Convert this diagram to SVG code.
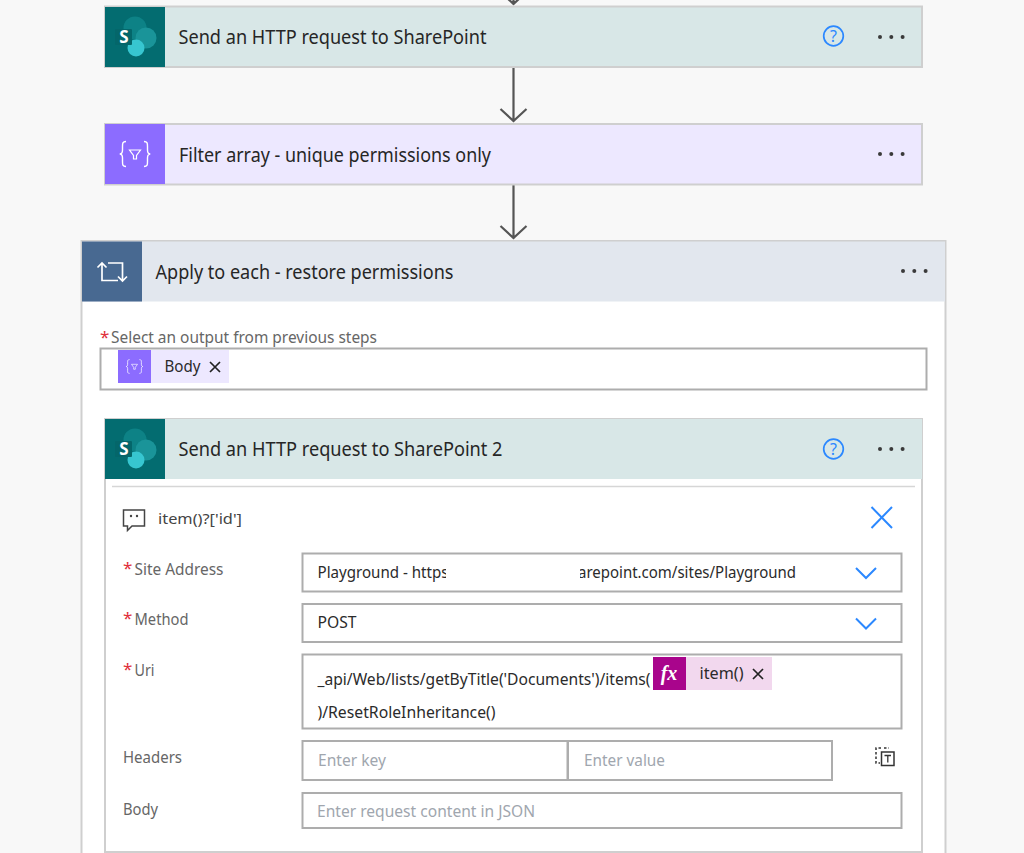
<svg xmlns="http://www.w3.org/2000/svg" xmlns:xlink="http://www.w3.org/1999/xlink" width="1024" height="853" viewBox="0 0 1024 853">
<style>
text{font-family:"Noto Sans","Open Sans","Liberation Sans",sans-serif;}
.title{font-size:19px;fill:#262626}
.lab{font-size:15.5px;fill:#666}
.val{font-size:15.5px;fill:#2b2b2b}
.ph{font-size:15.5px;fill:#a0a6ae}
.star{font-size:17px;fill:#e0303a}
.box{fill:#fff;stroke:#adadad;stroke-width:2}
.card{stroke:#cfcfcf;stroke-width:2}
.conn{fill:none;stroke:#555;stroke-width:2.2}
.dot{fill:#3a3a3a}
.blue{fill:none;stroke:#2b88ff;stroke-width:2}
.x{fill:none;stroke:#222;stroke-width:1.7}
</style>
<defs>
<g id="dots"><circle cx="0" cy="0" r="2" class="dot"/><circle cx="11.3" cy="0" r="2" class="dot"/><circle cx="22.6" cy="0" r="2" class="dot"/></g>
<g id="sp">
<rect x="0" y="0" width="60" height="60" fill="#036c70"/>
<circle cx="30" cy="21" r="11.500" fill="#0d8286"/>
<circle cx="41" cy="31" r="10.500" fill="#1a9499"/>
<circle cx="31" cy="41" r="8.500" fill="#37c6d0"/>
<rect x="10" y="22" width="17" height="16" rx="1" fill="#04666a"/>
<text x="19" y="36" font-size="17" font-weight="700" fill="#fff" text-anchor="middle">S</text>
</g>
<g id="help"><circle cx="0" cy="0" r="9.8" fill="none" stroke="#2b88ff" stroke-width="1.700"/><text x="0" y="5.800" font-size="16" fill="#2b88ff" text-anchor="middle">?</text></g>
<g id="chev"><path d="M-10 -5L0 5L10 -5" class="blue"/></g>
<g id="filt"><path d="M-9 -12.500c-3.500 0-3.500 2-3.500 5v3.500c0 3-1.500 4-2.800 4c1.300 0 2.800 1 2.800 4v3.500c0 3 0 5 3.500 5M9 -12.500c3.500 0 3.500 2 3.500 5v3.500c0 3 1.500 4 2.800 4c-1.300 0-2.800 1-2.800 4v3.500c0 3 0 5-3.500 5" fill="none" stroke="#fff" stroke-width="1.400"/><path d="M-5.500 -4H5.500L1.500 1.500V5H-1.500V1.500Z" fill="none" stroke="#fff" stroke-width="1.200"/></g>
<clipPath id="c1"><rect x="310" y="560" width="136" height="26"/></clipPath>
<clipPath id="c2"><rect x="580" y="560" width="240" height="26"/></clipPath>
</defs>

<rect width="1024" height="853" fill="#f8f8f8"/>

<g id="connectors">
<path d="M513.500 -4V4M506 -3L513.500 4L521 -3" class="conn"/>
<path d="M513.500 68V120M500.500 109L513.500 121L526.500 109" class="conn"/>
<path d="M513.500 185V238M500.500 226L513.500 238L526.500 226" class="conn"/>
</g>

<g id="node-send-http">
<rect x="105" y="6.500" width="817" height="60.500" fill="#d8e7e7" class="card"/>
<use xlink:href="#sp" href="#sp" x="105" y="7"/>
<text x="178.500" y="44" class="title" textLength="308" lengthAdjust="spacingAndGlyphs">Send an HTTP request to SharePoint</text>
<use xlink:href="#help" href="#help" x="833.500" y="36"/>
<use xlink:href="#dots" href="#dots" x="880" y="37"/>
</g>

<g id="node-filter-array">
<rect x="105" y="124" width="817" height="60.500" fill="#ede8ff" class="card"/>
<rect x="105" y="124" width="60" height="60" fill="#8c6cff"/>
<use xlink:href="#filt" href="#filt" x="135" y="154"/>
<text x="179" y="162" class="title" textLength="312" lengthAdjust="spacingAndGlyphs">Filter array - unique permissions only</text>
<use xlink:href="#dots" href="#dots" x="880" y="154"/>
</g>

<g id="node-apply-to-each">
<rect x="81.500" y="241" width="864" height="620" fill="#fff" class="card"/>
<rect x="82" y="241.500" width="863" height="60" fill="#e2e7ee"/>
<rect x="82" y="241.500" width="60" height="60" fill="#486991"/>
<path d="M102 263V280.500H118M97.500 267.500L102 263L106.500 267.500" fill="none" stroke="#fff" stroke-width="1.700"/>
<path d="M108 263H122.500V281M118 276.500L122.500 281L127 276.500" fill="none" stroke="#fff" stroke-width="1.700"/>
<text x="155.500" y="279" class="title" textLength="298" lengthAdjust="spacingAndGlyphs">Apply to each - restore permissions</text>
<use xlink:href="#dots" href="#dots" x="903" y="271"/>
<text x="100" y="343" class="star">*</text>
<text x="111" y="343" class="lab" textLength="266" lengthAdjust="spacingAndGlyphs">Select an output from previous steps</text>
<rect x="100.500" y="348.500" width="826" height="41" class="box"/>
<rect x="118" y="350" width="111" height="33" fill="#ede8ff"/>
<rect x="118" y="350" width="33" height="33" fill="#8c6cff"/>
<use xlink:href="#filt" href="#filt" transform="translate(134.500 366.500) scale(.55)"/>
<text x="164.500" y="372" class="val" textLength="36" lengthAdjust="spacingAndGlyphs">Body</text>
<path d="M210 362L220 372M220 362L210 372" class="x"/>
</g>

<g id="node-send-http-2">
<rect x="105" y="419" width="817" height="433" fill="#fff" class="card"/>
<rect x="105" y="419" width="817" height="60" fill="#d8e7e7"/>
<use xlink:href="#sp" href="#sp" x="105" y="419"/>
<text x="178.500" y="456" class="title" textLength="324" lengthAdjust="spacingAndGlyphs">Send an HTTP request to SharePoint 2</text>
<use xlink:href="#help" href="#help" x="833.500" y="449"/>
<use xlink:href="#dots" href="#dots" x="880" y="449"/>
<path d="M112 486.500H915" stroke="#d6d6d6" stroke-width="1.500"/>
<path d="M123.500 510H144.500V526H132L127.500 530.500V526H123.500Z" fill="none" stroke="#444" stroke-width="1.500"/>
<circle cx="131" cy="516" r="1.200" fill="#444"/><circle cx="137" cy="516" r="1.200" fill="#444"/>
<text x="158" y="524" font-size="15" fill="#444" textLength="84" lengthAdjust="spacingAndGlyphs">item()?['id']</text>
<path d="M871.500 507L892 528M892 507L871.500 528" class="blue"/>

<text x="123" y="574" class="star">*</text>
<text x="134.500" y="575" class="lab" textLength="89" lengthAdjust="spacingAndGlyphs">Site Address</text>
<rect x="302.500" y="553.500" width="599" height="38" class="box"/>
<text x="317.500" y="578" class="val" clip-path="url(#c1)" textLength="131" lengthAdjust="spacingAndGlyphs">Playground - https</text>
<text x="578" y="578" class="val" clip-path="url(#c2)" textLength="218" lengthAdjust="spacingAndGlyphs">arepoint.com/sites/Playground</text>
<use xlink:href="#chev" href="#chev" x="866" y="573"/>

<text x="123" y="624" class="star">*</text>
<text x="134.500" y="625" class="lab" textLength="54" lengthAdjust="spacingAndGlyphs">Method</text>
<rect x="302.500" y="604" width="599" height="38" class="box"/>
<text x="317.500" y="628" class="val" textLength="39" lengthAdjust="spacingAndGlyphs">POST</text>
<use xlink:href="#chev" href="#chev" x="866" y="623.500"/>

<text x="123" y="675" class="star">*</text>
<text x="134.500" y="676" class="lab" textLength="20" lengthAdjust="spacingAndGlyphs">Uri</text>
<rect x="302.500" y="654.500" width="599" height="74" class="box"/>
<text x="317.500" y="685" class="val" textLength="333" lengthAdjust="spacingAndGlyphs">_api/Web/lists/getByTitle('Documents')/items(</text>
<rect x="653" y="657" width="119" height="33" fill="#f2d8ee"/>
<rect x="653" y="657" width="33" height="33" fill="#a9058c"/>
<text x="669" y="680" font-size="20" font-style="italic" font-weight="700" fill="#fff" text-anchor="middle" style="font-family:'Liberation Serif',serif">fx</text>
<text x="699.500" y="679" class="val" textLength="44" lengthAdjust="spacingAndGlyphs">item()</text>
<path d="M753 669L763 679M763 669L753 679" class="x"/>
<text x="317.500" y="718" class="val" textLength="178" lengthAdjust="spacingAndGlyphs">)/ResetRoleInheritance()</text>

<text x="123" y="763" class="lab" textLength="59" lengthAdjust="spacingAndGlyphs">Headers</text>
<rect x="302.500" y="741" width="265" height="39" class="box"/>
<text x="318" y="766" class="ph" textLength="68" lengthAdjust="spacingAndGlyphs">Enter key</text>
<rect x="568" y="741" width="264" height="39" class="box"/>
<text x="584" y="766" class="ph" textLength="81" lengthAdjust="spacingAndGlyphs">Enter value</text>
<path d="M881 748H876V763H880M884 748H889" fill="none" stroke="#333" stroke-width="1.500" stroke-dasharray="2.500 2"/>
<rect x="881.500" y="752" width="12.500" height="13.500" fill="#fff" stroke="#333" stroke-width="1.500"/>
<path d="M884.500 755.500H891M887.800 755.500V762.500" stroke="#333" stroke-width="1.300"/>

<text x="123" y="815" class="lab" textLength="35" lengthAdjust="spacingAndGlyphs">Body</text>
<rect x="302.500" y="793" width="599" height="35" class="box"/>
<text x="317" y="817" class="ph" textLength="218" lengthAdjust="spacingAndGlyphs">Enter request content in JSON</text>
</g>
</svg>
